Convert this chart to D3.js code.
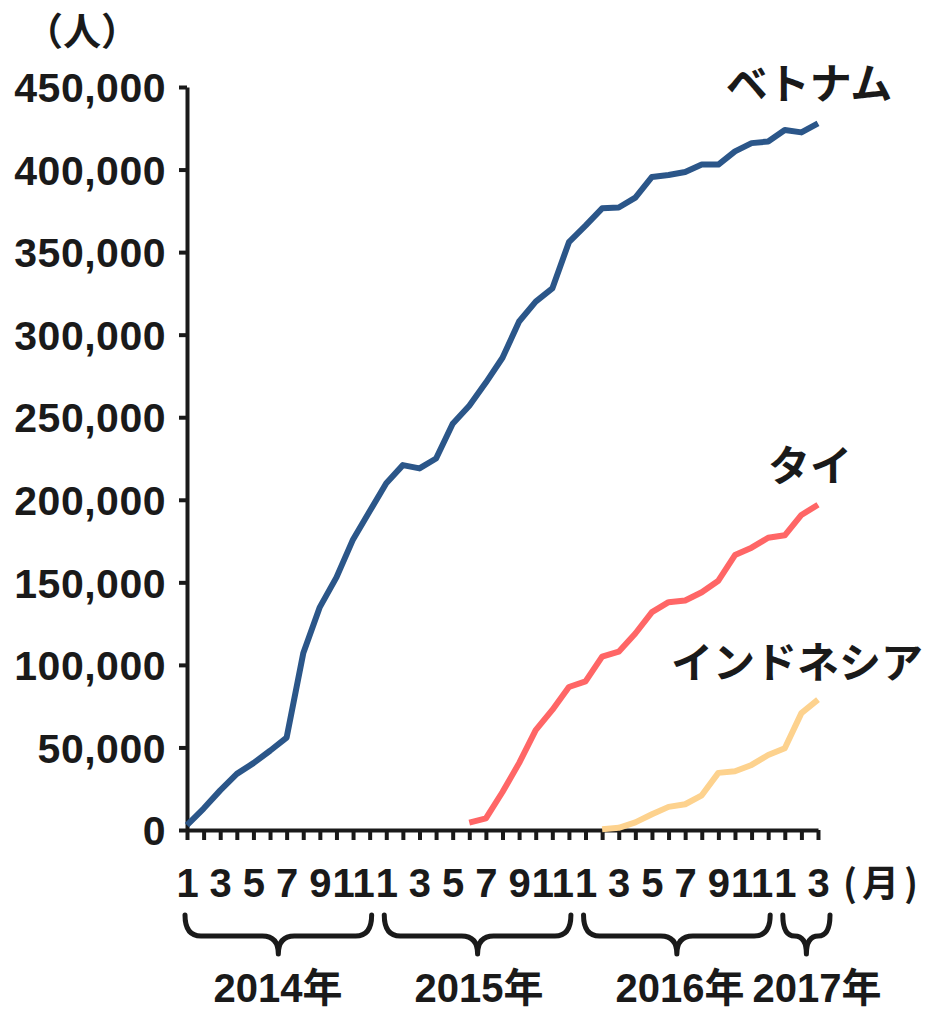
<!DOCTYPE html>
<html>
<head>
<meta charset="utf-8">
<script src="https://d3js.org/d3.v7.min.js"></script>
<style>
  body { margin: 0; background: #fff; }
  text { font-family: "Liberation Sans", Arial, "Noto Sans CJK JP", sans-serif; font-weight: bold; fill: #1a1a1a; }
  .jp { font-family: "Noto Sans CJK JP", sans-serif; }
</style>
</head>
<body>
<svg id="chart" width="928" height="1009"></svg>
<script>
// months Jan 2014 .. Mar 2017 (index 0..38)
var monthTicks = ["1","","3","","5","","7","","9","","11","",
                  "1","","3","","5","","7","","9","","11","",
                  "1","","3","","5","","7","","9","","11","",
                  "1","","3"];
var vietnam = [3000,13000,24000,34000,40500,48000,56000,107000,135000,153000,176000,193000,
               210000,221000,219000,225000,246000,257000,271000,286000,308000,320000,328000,356000,
               366000,376500,377000,383000,395500,396700,398500,403000,403000,411000,416000,417000,
               424000,422500,428000];
var thai = [null,null,null,null,null,null,null,null,null,null,null,null,
            null,null,null,null,null,4500,7000,23000,40500,60500,72700,86600,
            90000,105000,108000,119000,132000,138000,139000,144000,151000,166500,171000,177000,
            178500,190800,197000];
var indonesia = [null,null,null,null,null,null,null,null,null,null,null,null,
                 null,null,null,null,null,null,null,null,null,null,null,null,
                 null,500,1300,4600,9500,14000,15600,21000,34600,35600,39400,45400,
                 49500,70800,79000];
var seriesNames = ["ベトナム", "タイ", "インドネシア"];
var seriesColors = ["#2b5689", "#ff6666", "#fdd28e"];
var yTicks = [0,50000,100000,150000,200000,250000,300000,350000,400000,450000];
var years = [
  {name: "2014年", from: 0, to: 11},
  {name: "2015年", from: 12, to: 23},
  {name: "2016年", from: 24, to: 35},
  {name: "2017年", from: 36, to: 38}
];

var svg = d3.select("#chart");
var x = d3.scaleLinear().domain([0, 38]).range([187, 818]);
var y = d3.scaleLinear().domain([0, 450000]).range([830, 87]);

// y axis
var yAxis = svg.append("g")
  .attr("transform", "translate(" + x(0) + ",0)")
  .call(d3.axisLeft(y).tickValues(yTicks).tickSize(8).tickSizeOuter(0).tickPadding(13)
    .tickFormat(d3.format(",")));
yAxis.select(".domain").attr("stroke", "#1a1a1a").attr("stroke-width", 4);
yAxis.selectAll(".tick line").attr("stroke", "#1a1a1a").attr("stroke-width", 4);
yAxis.selectAll(".tick text").style("font-size", "41px").style("letter-spacing", "0.5px")
  .attr("fill", "#1a1a1a").attr("dy", "0.36em");

// x axis
var xAxis = svg.append("g")
  .attr("transform", "translate(0," + y(0) + ")")
  .call(d3.axisBottom(x).tickValues(d3.range(39)).tickSize(10).tickSizeOuter(0).tickPadding(29)
    .tickFormat(function(d){ return monthTicks[d]; }));
xAxis.select(".domain").attr("stroke", "#1a1a1a").attr("stroke-width", 4);
xAxis.selectAll(".tick line").attr("stroke", "#1a1a1a").attr("stroke-width", 4);
xAxis.selectAll(".tick text").style("font-size", "40px").attr("fill", "#1a1a1a");

svg.append("text").attr("class", "jp").attr("x", 843).attr("y", 897)
  .style("font-size", "37px").style("letter-spacing", "5px").text("(月)");
svg.append("text").attr("class", "jp").attr("x", 82).attr("y", 45)
  .attr("text-anchor", "middle").style("font-size", "38px").text("（人）");

// lines
var line = d3.line()
  .defined(function(d){ return d != null; })
  .x(function(d, i){ return x(i); })
  .y(function(d){ return y(d); });

[vietnam, thai, indonesia].forEach(function(s, k){
  svg.append("path")
    .datum(s)
    .attr("fill", "none")
    .attr("stroke", seriesColors[k])
    .attr("stroke-width", 6)
    .attr("stroke-linejoin", "round")
    .attr("d", line);
});

// series labels
var labelPos = [[809, 99], [810, 481], [797, 678]];
seriesNames.forEach(function(n, k){
  svg.append("text").attr("class", "jp")
    .attr("x", labelPos[k][0]).attr("y", labelPos[k][1])
    .attr("text-anchor", "middle")
    .style("font-size", "42px")
    .text(n);
});

// year braces
var by0 = 915, by1 = 936, by2 = 954;
years.forEach(function(yr){
  var x0 = x(yr.from) - 2, x1 = x(yr.to) + 2;
  if (yr.to === 38) x1 = x(38) + 12;
  var xc = (x0 + x1) / 2;
  var r = Math.min(16, (x1 - x0) / 4);
  var p = d3.path();
  p.moveTo(x0, by0);
  p.quadraticCurveTo(x0, by1, x0 + r, by1);
  p.lineTo(xc - r, by1);
  p.quadraticCurveTo(xc, by1, xc, by2);
  p.quadraticCurveTo(xc, by1, xc + r, by1);
  p.lineTo(x1 - r, by1);
  p.quadraticCurveTo(x1, by1, x1, by0);
  svg.append("path").attr("d", p.toString())
    .attr("fill", "none").attr("stroke", "#1a1a1a").attr("stroke-width", 5)
    .attr("stroke-linecap", "round").attr("stroke-linejoin", "round");
});
var yearX = [278, 479, 680, 817];
years.forEach(function(yr, i){
  svg.append("text").attr("x", yearX[i]).attr("y", 1002)
    .attr("text-anchor", "middle").style("font-size", "40px").text(yr.name);
});
</script>
</body>
</html>
